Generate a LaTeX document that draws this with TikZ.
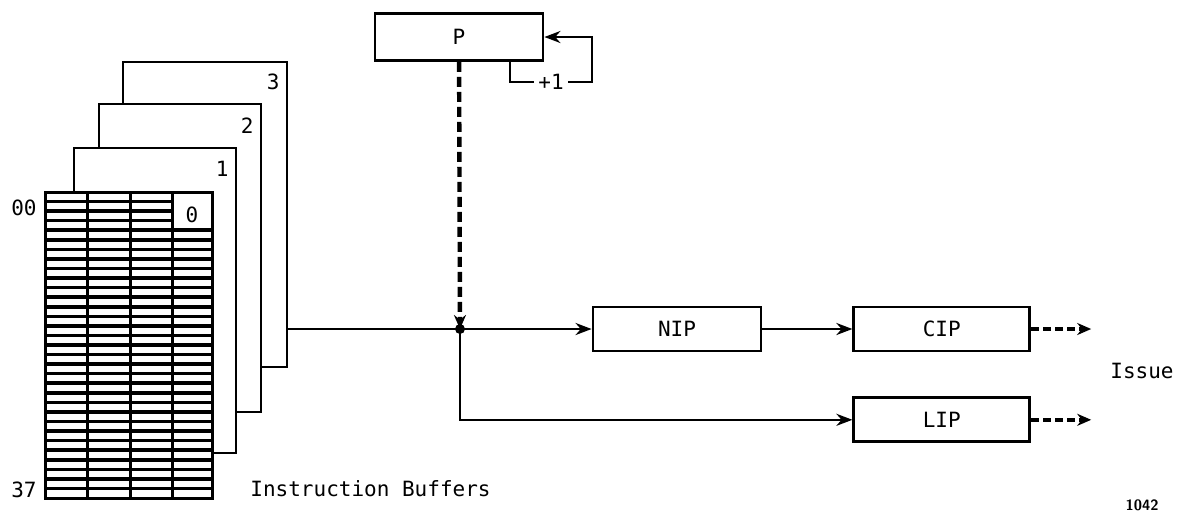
\documentclass[tikz,border=0pt]{standalone}
\usepackage{fontspec}
\setmonofont{DejaVu Sans Mono}
\usetikzlibrary{arrows.meta,positioning}
\tikzset{
  reg/.style={draw,line width=1.4pt,minimum width=84pt,minimum height=22pt,
    font=\ttfamily\fontsize{10.5}{12}\selectfont},
  lbl/.style={font=\ttfamily\fontsize{10.5}{12}\selectfont,inner sep=0pt},
  flow/.style={line width=1.3pt,-{Stealth[length=8pt,width=6pt]}},
  fetch/.style={line width=2.2pt,dash pattern=on 5pt off 2.5pt,-{Stealth[length=7pt,width=6pt]}},
  issue/.style={line width=2pt,dash pattern=on 4pt off 2pt,-{Stealth[length=7pt,width=6pt]}},
}
\begin{document}
\begin{tikzpicture}[x=0.5pt,y=-0.5pt,line width=1.4pt]
  \useasboundingbox (0,0) rectangle (1180,516);

  % back buffers 3, 2, 1
  \draw (123,104) |- (287,62) |- (261,367);
  \draw (99,148) |- (261,104) |- (236,412);
  \draw (74,192) |- (236,148) |- (212,453);
  \node[lbl,anchor=north east] (b3) at (281,73) {3};
  \node[lbl,anchor=north east] (b2) at (255,117) {2};
  \node[lbl,anchor=north east] (b1) at (230,160) {1};

  % buffer 0
  \draw[line width=1.5pt] (45,192) rectangle (212,498);
  \foreach \x in {87,130,172} {
    \draw[line width=1.5pt] (\x,192) -- (\x,498);
  }
  \foreach[evaluate={\y=192+\r*9.5625},evaluate={\xe=(\r<4)?172:212}] \r in {1,...,31} {
    \draw[line width=1.8pt] (45,\y) -- (\xe,\y);
  }
  \node[lbl] (b0) at (192,215) {0};
  \node[lbl,anchor=east] (first) at (38,208) {00};
  \node[lbl,anchor=east] (last) at (38,490) {37};
  \node[lbl,anchor=west] (buffers) at (249,489) {Instruction Buffers};

  \coordinate (bufout) at (287,329);
  \coordinate (jn) at (460,329);

  % program counter
  \node[reg,minimum height=23.5pt] (P) at (459,37) {P};
  \coordinate (incr) at (592,82);
  \draw[flow] ([xshift=25.5pt]P.south) |- node[pos=0.75,fill=white,lbl,inner sep=2pt] (plus) {+1} (incr) |- (P.east);

  % instruction registers
  \node[reg] (NIP) at (677,329) {NIP};
  \node[reg,minimum width=88pt,right=45pt of NIP] (CIP) {CIP};
  \node[reg,minimum width=88pt,below=22pt of CIP] (LIP) {LIP};

  \draw (bufout) -- (jn);
  \draw[fetch] (P) -- (jn);
  \fill (jn) circle (5);
  \draw[flow] (jn) -- (NIP);
  \draw[flow] (jn) |- (LIP);
  \draw[flow] (NIP) -- (CIP);

  \coordinate[right=30pt of CIP.east] (cipend);
  \coordinate[right=30pt of LIP.east] (lipend);
  \draw[issue] (CIP) -- (cipend);
  \draw[issue] (LIP) -- (lipend);
  \node[lbl] (issue) at (1142,371) {Issue};

  \node[font=\sffamily\bfseries\fontsize{7.5}{8}\selectfont] (fig) at (1142,505) {1042};
\end{tikzpicture}
\end{document}
